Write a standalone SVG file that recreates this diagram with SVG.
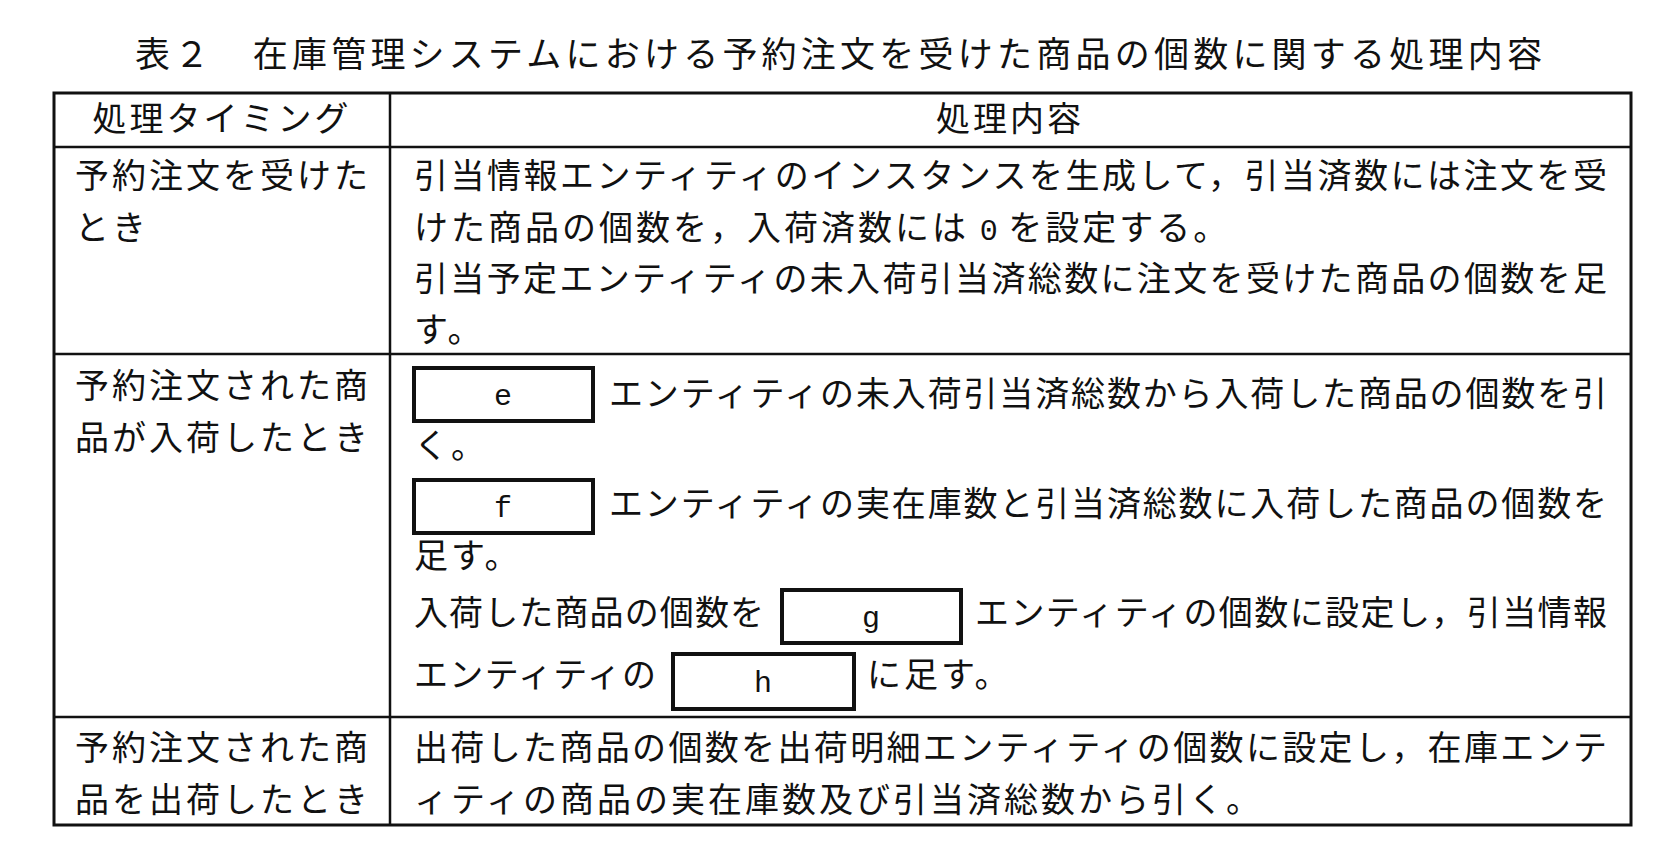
<svg xmlns="http://www.w3.org/2000/svg" width="1676" height="856" viewBox="0 0 1676 856">
<style>
text{font-family:"Noto Sans CJK JP","Liberation Sans",sans-serif;font-size:34px;fill:#111;letter-spacing:3px}
.t{font-size:35px}
.b{fill:#fff;stroke:#111;stroke-width:4}
.m{font-family:"Liberation Mono","DejaVu Sans Mono",monospace;font-size:30px;letter-spacing:0}
.g{stroke:#111;stroke-width:2.5;fill:none}
</style>
<rect width="1676" height="856" fill="#fff"/>
<text class="t" x="840" y="67" text-anchor="middle" textLength="1410">表２　在庫管理システムにおける予約注文を受けた商品の個数に関する処理内容</text>
<g id="table" class="g">
<rect x="54" y="93" width="1577" height="732" stroke-width="3"/>
<line x1="390" y1="93" x2="390" y2="825"/>
<line x1="54" y1="147" x2="1631" y2="147"/>
<line x1="54" y1="354" x2="1631" y2="354"/>
<line x1="54" y1="717" x2="1631" y2="717"/>
</g>
<g id="header">
<text x="222" y="131" text-anchor="middle">処理タイミング</text>
<text x="1010" y="131" text-anchor="middle">処理内容</text>
</g>
<g id="row1">
<text x="75" y="188">予約注文を受けた</text>
<text x="75" y="240">とき</text>
<text x="414" y="188" textLength="1196" lengthAdjust="spacing">引当情報エンティティのインスタンスを生成して，引当済数には注文を受</text>
<text x="414" y="240">けた商品の個数を，入荷済数には <tspan class="m">0</tspan> を設定する。</text>
<text x="414" y="291" textLength="1196" lengthAdjust="spacing">引当予定エンティティの未入荷引当済総数に注文を受けた商品の個数を足</text>
<text x="414" y="342">す。</text>
</g>
<g id="row2">
<text x="75" y="398">予約注文された商</text>
<text x="75" y="450">品が入荷したとき</text>
<g id="box-e"><rect class="b" x="414" y="368" width="179" height="53"/><text class="m" x="503" y="405" text-anchor="middle">e</text></g>
<text x="609" y="406" textLength="1001" lengthAdjust="spacing">エンティティの未入荷引当済総数から入荷した商品の個数を引</text>
<text x="414" y="458">く。</text>
<g id="box-f"><rect class="b" x="414" y="480" width="179" height="53"/><text class="m" x="503" y="517" text-anchor="middle">f</text></g>
<text x="609" y="516" textLength="1001" lengthAdjust="spacing">エンティティの実在庫数と引当済総数に入荷した商品の個数を</text>
<text x="414" y="568">足す。</text>
<text x="414" y="625" textLength="353" lengthAdjust="spacing">入荷した商品の個数を</text>
<g id="box-g"><rect class="b" x="782" y="590" width="179" height="53"/><text class="m" x="871" y="627" text-anchor="middle">g</text></g>
<text x="975" y="625" textLength="635" lengthAdjust="spacing">エンティティの個数に設定し，引当情報</text>
<text x="414" y="687" textLength="245" lengthAdjust="spacing">エンティティの</text>
<g id="box-h"><rect class="b" x="673" y="654" width="181" height="55"/><text class="m" x="763" y="692" text-anchor="middle">h</text></g>
<text x="867" y="687">に足す。</text>
</g>
<g id="row3">
<text x="75" y="760">予約注文された商</text>
<text x="75" y="812">品を出荷したとき</text>
<text x="414" y="760" textLength="1196" lengthAdjust="spacing">出荷した商品の個数を出荷明細エンティティの個数に設定し，在庫エンテ</text>
<text x="414" y="812">ィティの商品の実在庫数及び引当済総数から引く。</text>
</g>
</svg>
